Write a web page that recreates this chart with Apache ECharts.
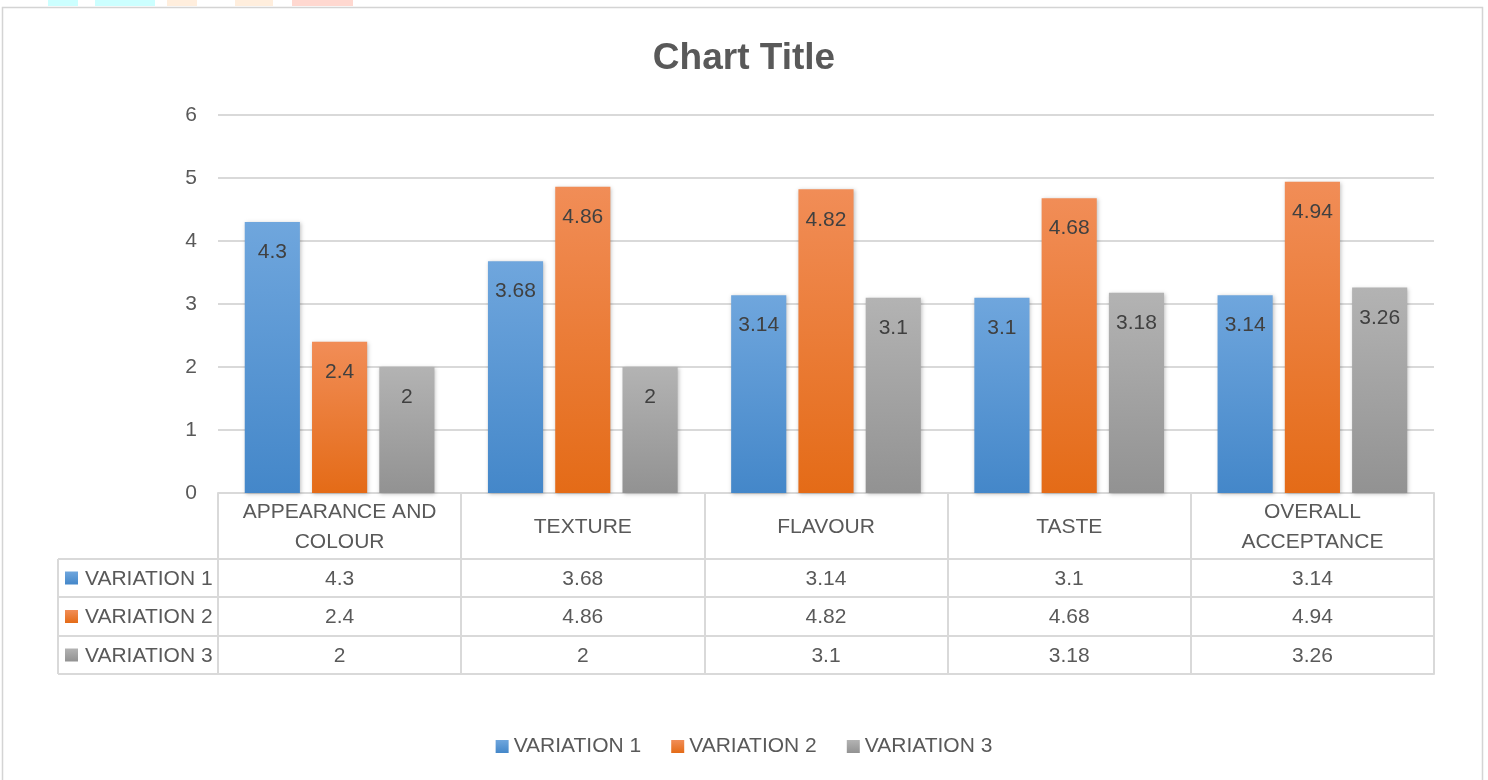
<!DOCTYPE html>
<html>
<head>
<meta charset="utf-8">
<script src="https://cdn.jsdelivr.net/npm/echarts@6/dist/echarts.min.js"></script>
<style>
html,body{margin:0;padding:0;background:#fff;}
#chart{width:1488px;height:780px;}
</style>
</head>
<body>
<div id="chart"></div>
<script>
// ---- data ----
var categories = ['APPEARANCE AND\nCOLOUR', 'TEXTURE', 'FLAVOUR', 'TASTE', 'OVERALL\nACCEPTANCE'];
var seriesNames = ['VARIATION 1', 'VARIATION 2', 'VARIATION 3'];
var variation1 = [4.3, 3.68, 3.14, 3.1, 3.14];
var variation2 = [2.4, 4.86, 4.82, 4.68, 4.94];
var variation3 = [2, 2, 3.1, 3.18, 3.26];
var yTicks = [0, 1, 2, 3, 4, 5, 6];

// ---- styling / layout ----
var FONT = "'Liberation Sans', Arial, sans-serif";
var FS = 21;
var TXT = '#595959';
var LINE = '#d9d9d9';
var GRID_LEFT = 218, GRID_RIGHT = 54, GRID_TOP = 115, GRID_BOTTOM = 287;
var AXIS_Y = 780 - GRID_BOTTOM;
var HEADER_H = 66;
var ROW_H = [38, 39, 38];
var TABLE_LEFT = 58;

function grad(top, bottom) {
  return new echarts.graphic.LinearGradient(0, 0, 0, 1, [
    {offset: 0, color: top}, {offset: 1, color: bottom}
  ]);
}
var colors = [
  grad('#6fa6dd', '#4487c9'),
  grad('#f18d57', '#e46b17'),
  grad('#b3b3b3', '#929292')
];
var seriesData = [variation1, variation2, variation3];

var xAxes = [{
  type: 'category',
  data: categories,
  position: 'bottom',
  axisLine: {show: true, lineStyle: {color: LINE, width: 2}},
  axisTick: {show: true, interval: 0, length: HEADER_H, lineStyle: {color: LINE, width: 2}},
  axisLabel: {interval: 0, color: TXT, fontFamily: FONT, fontSize: FS, lineHeight: 30,
    verticalAlign: 'middle', margin: HEADER_H / 2 + 1, align: 'center'}
}];
var offset = HEADER_H;
var rowTops = [];
seriesData.forEach(function (vals, i) {
  rowTops.push(AXIS_Y + offset);
  xAxes.push({
    type: 'category',
    data: categories,
    position: 'bottom',
    offset: offset,
    axisLine: {show: true, lineStyle: {color: LINE, width: 2}},
    axisTick: {show: true, interval: 0, length: ROW_H[i], lineStyle: {color: LINE, width: 2}},
    axisLabel: {interval: 0, color: TXT, fontFamily: FONT, fontSize: FS, verticalAlign: 'middle',
      margin: ROW_H[i] / 2 + 1,
      formatter: (function (v) { return function (value, idx) { return String(v[idx]); }; })(vals)}
  });
  offset += ROW_H[i];
});
var tableBottom = AXIS_Y + offset;
xAxes.push({
  type: 'category', data: categories, position: 'bottom', offset: offset,
  axisLine: {show: true, lineStyle: {color: LINE, width: 2}},
  axisTick: {show: false}, axisLabel: {show: false}
});

var graphics = [
  {type: 'rect', z: -10, shape: {x: 2.5, y: 7.5, width: 1480, height: 800},
   style: {fill: null, stroke: '#d4d4d4', lineWidth: 1.5}},
  // faint strips at the top edge
  {type: 'rect', shape: {x: 48, y: 0, width: 30, height: 6}, style: {fill: '#ccffff'}},
  {type: 'rect', shape: {x: 95, y: 0, width: 60, height: 6}, style: {fill: '#ccffff'}},
  {type: 'rect', shape: {x: 167, y: 0, width: 30, height: 6}, style: {fill: '#ffeedd'}},
  {type: 'rect', shape: {x: 235, y: 0, width: 38, height: 6}, style: {fill: '#ffeedd'}},
  {type: 'rect', shape: {x: 292, y: 0, width: 61, height: 6}, style: {fill: '#ffd8d0'}},
  // left column of the table
  {type: 'line', shape: {x1: TABLE_LEFT, y1: rowTops[0], x2: TABLE_LEFT, y2: tableBottom},
   style: {stroke: LINE, lineWidth: 2}}
];
rowTops.concat([tableBottom]).forEach(function (y) {
  graphics.push({type: 'line', shape: {x1: TABLE_LEFT, y1: y, x2: GRID_LEFT, y2: y},
    style: {stroke: LINE, lineWidth: 2}});
});
rowTops.forEach(function (y, i) {
  var cy = y + ROW_H[i] / 2;
  graphics.push({type: 'rect', shape: {x: TABLE_LEFT + 7, y: cy - 6.5, width: 13, height: 13},
    style: {fill: colors[i]}});
  graphics.push({type: 'text', x: TABLE_LEFT + 27, y: cy + 1,
    style: {text: seriesNames[i], fill: TXT, font: FS + 'px ' + FONT, verticalAlign: 'middle', align: 'left'}});
});

var chart = echarts.init(document.getElementById('chart'), null, {renderer: 'canvas'});
chart.setOption({
  backgroundColor: '#ffffff',
  animation: false,
  title: {
    text: 'Chart Title', left: 'center', top: 35,
    textStyle: {color: TXT, fontFamily: FONT, fontSize: 37, fontWeight: 'bold'}
  },
  legend: {
    data: seriesNames, bottom: 18, left: 'center', icon: 'rect',
    itemWidth: 13, itemHeight: 13, itemGap: 30,
    textStyle: {color: TXT, fontFamily: FONT, fontSize: FS}
  },
  grid: {left: GRID_LEFT, right: GRID_RIGHT, top: GRID_TOP, bottom: GRID_BOTTOM, containLabel: false},
  xAxis: xAxes,
  yAxis: {
    type: 'value', min: yTicks[0], max: yTicks[yTicks.length - 1], interval: 1,
    axisLine: {show: false}, axisTick: {show: false},
    axisLabel: {color: TXT, fontFamily: FONT, fontSize: FS, margin: 21},
    splitLine: {lineStyle: {color: LINE, width: 2}}
  },
  graphic: graphics,
  series: seriesData.map(function (vals, i) {
    return {
      name: seriesNames[i], type: 'bar', xAxisIndex: 0, data: vals,
      barCategoryGap: '22%', barGap: '22%',
      itemStyle: {color: colors[i], shadowBlur: 4, shadowColor: 'rgba(0,0,0,0.25)', shadowOffsetX: 1, shadowOffsetY: 1},
      label: {show: true, position: 'insideTop', distance: 20, color: '#404040',
        fontFamily: FONT, fontSize: FS}
    };
  })
});
</script>
</body>
</html>
